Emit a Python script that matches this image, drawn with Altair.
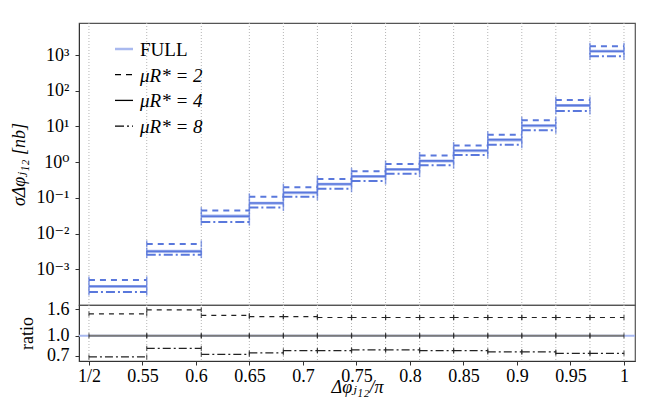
import altair as alt
import pandas as pd

# bin edges in units of pi
edges = [0.5, 0.554, 0.605, 0.6499, 0.6817, 0.7135, 0.7454, 0.7772,
         0.8090, 0.8408, 0.8727, 0.9045, 0.9363, 0.9682, 1.0]

full = [3.3e-4, 3.2e-3, 0.031, 0.071, 0.14, 0.24, 0.40, 0.625, 1.08, 2.1, 4.2, 10.5, 38.5, 1270]
mu2 = [5.05e-4, 5.15e-3, 0.044, 0.107, 0.20, 0.337, 0.557, 0.895, 1.54, 2.94, 5.9, 15.0, 55.0, 1770]
mu4 = [3.35e-4, 3.18e-3, 0.0304, 0.072, 0.142, 0.244, 0.403, 0.634, 1.09, 2.13, 4.27, 10.6, 38.9, 1280]
mu8 = [2.31e-4, 2.57e-3, 0.021, 0.0536, 0.107, 0.18, 0.296, 0.476, 0.82, 1.58, 3.08, 7.8, 26.9, 925]

ratio2 = [1.47, 1.58, 1.43, 1.40, 1.40, 1.38, 1.38, 1.38, 1.38, 1.38, 1.38, 1.38, 1.38, 1.38]
ratio4 = [1.0] * 14
ratio8 = [0.688, 0.80, 0.72, 0.738, 0.768, 0.768, 0.778, 0.778, 0.768, 0.768, 0.751, 0.751, 0.733, 0.733]

xticks = [0.5, 0.55, 0.6, 0.65, 0.7, 0.75, 0.8, 0.85, 0.9, 0.95, 1.0]
yticks_top = [1e-3, 1e-2, 1e-1, 1e0, 1e1, 1e2, 1e3]
yticks_ratio = [0.7, 1.0, 1.6]

legend_labels = ["FULL", "μR* = 2", "μR* = 4", "μR* = 8"]

FONT = "Liberation Serif, DejaVu Serif, serif"
BLUE = "#5a78dc"
LIGHT = "#a9b9ef"
DASH = [6, 5]
DASHDOT = [9, 3, 2, 3]

lo = edges[:-1]
hi = edges[1:]


def seg_df(vals):
    return pd.DataFrame({"lo": lo, "hi": hi, "v": vals})


def cap_df(vals):
    return pd.DataFrame({"x": lo + hi, "v": list(vals) + list(vals)})


edges_df = pd.DataFrame({"x": edges})

XS = alt.Scale(domain=[0.4907, 1.0103], nice=False, zero=False)
YT = alt.Scale(type="log", domain=[1e-4, 7.9e3], nice=False)
YR = alt.Scale(type="log", domain=[0.64, 1.72], nice=False)

ytop_axis = alt.Axis(
    values=yticks_top,
    labelExpr="['10⁻³','10⁻²','10⁻¹','10⁰','10¹','10²','10³'][round(log(datum.value)/LN10)+3]",
    title="σΔφⱼ₁₂ [nb]", tickSize=4, labelPadding=6, grid=False,
    titlePadding=8, titleFontStyle="italic",
)
yrat_axis = alt.Axis(
    values=yticks_ratio, format=".1f", title="ratio", tickSize=4,
    labelPadding=6, grid=False, titlePadding=10, titleFontStyle="normal",
)
xbot_axis = alt.Axis(
    values=xticks,
    labelExpr="datum.value == 0.5 ? '1/2' : (datum.value == 1 ? '1' : format(datum.value, '.2~f'))",
    title="Δφⱼ₁₂/π", tickSize=4, grid=False, labelPadding=2,
    titleY=17, titleBaseline="top", titleFontStyle="italic",
)


def grid_layer(xaxis):
    return alt.Chart(edges_df).mark_rule(strokeDash=[1, 2], color="#b5b5b5", strokeWidth=1).encode(
        x=alt.X("x:Q", scale=XS, axis=xaxis)
    )


# ---------- top panel ----------
def top_seg(vals, color, width, dash=None):
    kw = dict(color=color, strokeWidth=width)
    if dash is not None:
        kw["strokeDash"] = dash
    return alt.Chart(seg_df(vals)).mark_rule(**kw).encode(
        x=alt.X("lo:Q", scale=XS, axis=None),
        x2="hi:Q",
        y=alt.Y("v:Q", scale=YT, axis=ytop_axis),
    )


def top_caps(vals, color, size):
    return alt.Chart(cap_df(vals)).mark_tick(orient="vertical", size=size, thickness=1.5, color=color).encode(
        x=alt.X("x:Q", scale=XS, axis=None),
        y=alt.Y("v:Q", scale=YT, axis=ytop_axis),
    )


one = pd.DataFrame({"a": [0]})
legend_layers = []
leg_styles = [(LIGHT, None, 2.5), ("black", DASH, 1.3), ("black", None, 1.3), ("black", DASHDOT, 1.3)]
for i, (lab, (col, dash, w)) in enumerate(zip(legend_labels, leg_styles)):
    yy = 26 + i * 25.7
    kw = dict(color=col, strokeWidth=w)
    if dash is not None:
        kw["strokeDash"] = dash
    legend_layers.append(
        alt.Chart(one).mark_rule(**kw).encode(x=alt.value(36), x2=alt.value(54), y=alt.value(yy))
    )
    legend_layers.append(
        alt.Chart(one).mark_text(text=lab, align="left", baseline="middle", font=FONT, fontSize=19,
                                 fontStyle="normal" if i == 0 else "italic", color="black").encode(
            x=alt.value(61), y=alt.value(yy + 1))
    )

top = alt.layer(
    grid_layer(None),
    top_seg(full, LIGHT, 3),
    top_seg(mu2, BLUE, 2, DASH),
    top_seg(mu4, BLUE, 1.6),
    top_seg(mu8, BLUE, 2, DASHDOT),
    top_caps(mu2, BLUE, 7),
    top_caps(mu4, BLUE, 7),
    top_caps(mu8, BLUE, 7),
    *legend_layers,
).properties(width=556, height=282)


# ---------- ratio panel ----------
def rat_seg(vals, color, width, dash=None):
    kw = dict(color=color, strokeWidth=width)
    if dash is not None:
        kw["strokeDash"] = dash
    return alt.Chart(seg_df(vals)).mark_rule(**kw).encode(
        x=alt.X("lo:Q", scale=XS, axis=xbot_axis),
        x2="hi:Q",
        y=alt.Y("v:Q", scale=YR, axis=yrat_axis),
    )


def rat_caps(vals, color, size):
    return alt.Chart(cap_df(vals)).mark_tick(orient="vertical", size=size, thickness=1.2, color=color).encode(
        x=alt.X("x:Q", scale=XS, axis=xbot_axis),
        y=alt.Y("v:Q", scale=YR, axis=yrat_axis),
    )


full_ratio = alt.Chart(pd.DataFrame({"v": [1.0]})).mark_rule(color=LIGHT, strokeWidth=2).encode(
    y=alt.Y("v:Q", scale=YR, axis=yrat_axis)
)

bottom = alt.layer(
    grid_layer(xbot_axis),
    full_ratio,
    rat_seg(ratio4, "#7a7a7a", 2),
    rat_seg(ratio2, "#222", 1.2, [5, 5]),
    rat_seg(ratio8, "#222", 1.2, [8, 3, 2, 3]),
    rat_caps(ratio2, "#222", 5),
    rat_caps(ratio4, "#222", 5),
    rat_caps(ratio8, "#222", 5),
).properties(width=556, height=56)

chart = alt.vconcat(top, bottom, spacing=0, bounds="flush").properties(
    padding={"left": 1, "top": 13, "right": 5, "bottom": 0}
).configure_view(
    stroke="#555", strokeWidth=1.2
).configure_axis(
    labelFont=FONT, labelFontSize=18, labelColor="black",
    titleFont=FONT, titleFontSize=18, titleFontWeight="normal", titleColor="black",
    domainColor="#333", tickColor="#333",
)

chart.save("out.html", embed_options={"renderer": "svg", "actions": False})
